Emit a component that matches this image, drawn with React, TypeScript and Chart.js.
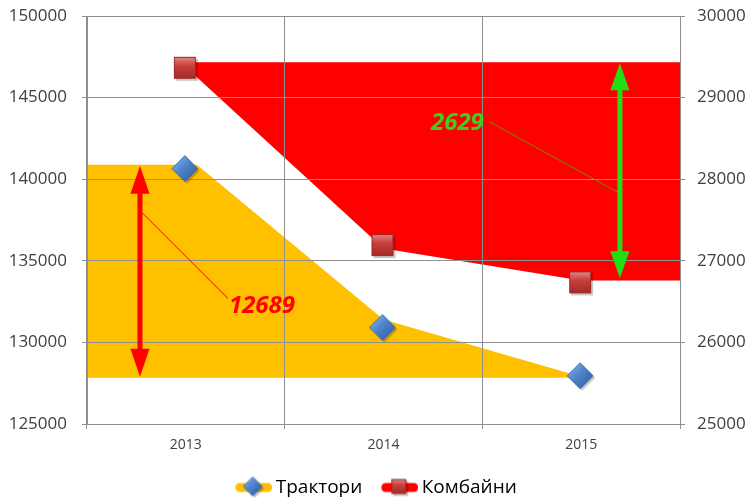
import React, { useEffect, useRef } from 'react';
import { Chart, registerables } from 'chart.js';

Chart.register(...registerables);

// ---------- data ----------
const categories = ['2013', '2014', '2015'];
const seriesNames = ['Трактори', 'Комбайни'];
const tractors = [140583, 130850, 127894];
const combines = [29353, 27180, 26724];

const leftMin = 125000;
const leftMax = 150000;
const leftStep = 5000;
const rightMin = 25000;
const rightMax = 30000;
const rightStep = 1000;

// hand-drawn shapes, x in category units (0..3), y in axis values
const yellowTopX = [0, 0.556, 1.5, 2.5];
const yellowTopY = [140887, 140887, 131400, 127900];
const yellowBase = 127833;

const redTopX = [0.52, 3];
const redTopY = [29433, 29433];
const redBottomX = [0.52, 1.5, 2.5, 3];
const redBottomY = [29330, 27150, 26760, 26760];

// annotations
const tractorDiffLabel = '12689';
const combineDiffLabel = '2629';
const redArrowX = 0.268;
const redArrowY = [140830, 127894];
const greenArrowX = 2.696;
const greenArrowY = [29421, 26785];
const redLeaderX = [0.27, 0.713];
const redLeaderY = [138054, 132697];
const greenLeaderX = [2.033, 2.691];
const greenLeaderY = [28707, 27833];
const redLabelPos = [0.718, 132204];
const greenLabelPos = [1.74, 28682];

const FONT = "'Open Sans', 'Noto Sans', sans-serif";
const GRID = '#8f8f8f';
const YELLOW = '#FFC000';
const RED = '#FF0000';
const GREEN_ARROW = '#22DE14';
const GREEN_TEXT = '#3CCF1C';

function zip(xs: number[], ys: number[]) {
  return xs.map((x, i) => ({ x, y: ys[i] }));
}

function makeDiamond(size: number): HTMLCanvasElement {
  const c = document.createElement('canvas');
  c.width = size + 4;
  c.height = size + 4;
  const ctx = c.getContext('2d')!;
  const h = size / 2;
  const path = (ox: number, oy: number) => {
    ctx.beginPath();
    ctx.moveTo(ox + h, oy);
    ctx.lineTo(ox + size, oy + h);
    ctx.lineTo(ox + h, oy + size);
    ctx.lineTo(ox, oy + h);
    ctx.closePath();
  };
  path(3, 3);
  ctx.fillStyle = 'rgba(0,0,0,0.22)';
  ctx.fill();
  path(1, 1);
  const g = ctx.createLinearGradient(1, 1, size, size);
  g.addColorStop(0, '#9CC0EC');
  g.addColorStop(0.45, '#4F86CC');
  g.addColorStop(1, '#2D5C9C');
  ctx.fillStyle = g;
  ctx.fill();
  ctx.strokeStyle = '#3B6AA8';
  ctx.lineWidth = 1;
  ctx.stroke();
  return c;
}

function makeSquare(size: number): HTMLCanvasElement {
  const c = document.createElement('canvas');
  c.width = size + 4;
  c.height = size + 4;
  const ctx = c.getContext('2d')!;
  ctx.fillStyle = 'rgba(0,0,0,0.22)';
  ctx.fillRect(3, 3, size, size);
  const g = ctx.createLinearGradient(0, 1, 0, size + 1);
  g.addColorStop(0, '#E58A88');
  g.addColorStop(0.4, '#C9403C');
  g.addColorStop(1, '#A52A27');
  ctx.fillStyle = g;
  ctx.fillRect(1, 1, size, size);
  ctx.strokeStyle = '#9A2C2A';
  ctx.lineWidth = 1;
  ctx.strokeRect(1.5, 1.5, size - 1, size - 1);
  return c;
}

function makeLegendIcon(marker: HTMLCanvasElement, color: string, lineW: number, totalW: number): HTMLCanvasElement {
  const c = document.createElement('canvas');
  c.width = totalW;
  c.height = 24;
  const ctx = c.getContext('2d')!;
  const right = totalW;
  const left = totalW - 37;
  ctx.strokeStyle = color;
  ctx.lineWidth = lineW;
  ctx.lineCap = 'round';
  ctx.beginPath();
  ctx.moveTo(left + lineW / 2, 12);
  ctx.lineTo(right - lineW / 2, 12);
  ctx.stroke();
  const cx = (left + right) / 2;
  ctx.drawImage(marker, cx - marker.width / 2, 12 - marker.height / 2);
  return c;
}

function drawDoubleArrow(
  ctx: CanvasRenderingContext2D,
  x: number,
  yTop: number,
  yBot: number,
  color: string,
  shaft: number,
  headW: number,
  headL: number
) {
  ctx.save();
  ctx.fillStyle = color;
  ctx.fillRect(x - shaft / 2, yTop + headL - 1, shaft, yBot - yTop - 2 * headL + 2);
  ctx.beginPath();
  ctx.moveTo(x, yTop);
  ctx.lineTo(x + headW / 2, yTop + headL);
  ctx.lineTo(x - headW / 2, yTop + headL);
  ctx.closePath();
  ctx.fill();
  ctx.beginPath();
  ctx.moveTo(x, yBot);
  ctx.lineTo(x + headW / 2, yBot - headL);
  ctx.lineTo(x - headW / 2, yBot - headL);
  ctx.closePath();
  ctx.fill();
  ctx.restore();
}

const legendShiftPlugin = {
  id: 'legendShift',
  afterLayout(chart: any) {
    if (chart.legend) {
      chart.legend.left -= 8;
      chart.legend.right -= 8;
    }
  },
};

const annotationPlugin = {
  id: 'diffAnnotations',
  afterDatasetsDraw(chart: any) {
    const ctx: CanvasRenderingContext2D = chart.ctx;
    const xs = chart.scales.xl;
    const yl = chart.scales.y;
    const yr = chart.scales.y1;
    // leader lines
    ctx.save();
    ctx.lineWidth = 1;
    ctx.strokeStyle = RED;
    ctx.beginPath();
    ctx.moveTo(xs.getPixelForValue(redLeaderX[0]), yl.getPixelForValue(redLeaderY[0]));
    ctx.lineTo(xs.getPixelForValue(redLeaderX[1]), yl.getPixelForValue(redLeaderY[1]));
    ctx.stroke();
    ctx.strokeStyle = '#6E8F00';
    ctx.beginPath();
    ctx.moveTo(xs.getPixelForValue(greenLeaderX[0]), yr.getPixelForValue(greenLeaderY[0]));
    ctx.lineTo(xs.getPixelForValue(greenLeaderX[1]), yr.getPixelForValue(greenLeaderY[1]));
    ctx.stroke();
    ctx.restore();
    // arrows
    drawDoubleArrow(
      ctx,
      xs.getPixelForValue(redArrowX),
      yl.getPixelForValue(redArrowY[0]),
      yl.getPixelForValue(redArrowY[1]),
      RED,
      5,
      19,
      28
    );
    drawDoubleArrow(
      ctx,
      xs.getPixelForValue(greenArrowX),
      yr.getPixelForValue(greenArrowY[0]),
      yr.getPixelForValue(greenArrowY[1]),
      GREEN_ARROW,
      5,
      19,
      27
    );
    // labels
    ctx.save();
    ctx.font = `italic bold 24px ${FONT}`;
    ctx.textAlign = 'left';
    ctx.textBaseline = 'middle';
    ctx.fillStyle = RED;
    ctx.fillText(tractorDiffLabel, xs.getPixelForValue(redLabelPos[0]), yl.getPixelForValue(redLabelPos[1]));
    ctx.fillStyle = GREEN_TEXT;
    ctx.fillText(combineDiffLabel, xs.getPixelForValue(greenLabelPos[0]), yr.getPixelForValue(greenLabelPos[1]));
    ctx.restore();
  },
};

export default function App() {
  const ref = useRef<HTMLCanvasElement | null>(null);

  useEffect(() => {
    document.body.style.margin = '0';
    const canvas = ref.current;
    if (!canvas) return;

    const diamond = makeDiamond(26);
    const square = makeSquare(22);
    const legendDiamond = makeDiamond(19);
    const legendSquare = makeSquare(15);
    const legendW = 60;
    const icons = [
      makeLegendIcon(legendDiamond, YELLOW, 9, legendW),
      makeLegendIcon(legendSquare, RED, 9, legendW),
    ];

    const chart = new Chart(canvas, {
      type: 'line',
      data: {
        labels: categories,
        datasets: [
          {
            label: 'redTop',
            xAxisID: 'xl',
            yAxisID: 'y1',
            data: zip(redTopX, redTopY) as any,
            borderWidth: 0,
            borderColor: 'rgba(0,0,0,0)',
            pointRadius: 0,
            backgroundColor: RED,
            fill: '+1',
            tension: 0,
          },
          {
            label: 'redBottom',
            xAxisID: 'xl',
            yAxisID: 'y1',
            data: zip(redBottomX, redBottomY) as any,
            borderWidth: 0,
            borderColor: 'rgba(0,0,0,0)',
            pointRadius: 0,
            fill: false,
            tension: 0,
          },
          {
            label: 'yellow',
            xAxisID: 'xl',
            yAxisID: 'y',
            data: zip(yellowTopX, yellowTopY) as any,
            borderWidth: 0,
            borderColor: 'rgba(0,0,0,0)',
            pointRadius: 0,
            backgroundColor: YELLOW,
            fill: { value: yellowBase } as any,
            tension: 0,
          },
          {
            label: seriesNames[0],
            xAxisID: 'x',
            yAxisID: 'y',
            data: tractors,
            showLine: false,
            pointStyle: diamond as any,
            pointRadius: 10,
          },
          {
            label: seriesNames[1],
            xAxisID: 'x',
            yAxisID: 'y1',
            data: combines,
            showLine: false,
            pointStyle: square as any,
            pointRadius: 10,
          },
        ],
      },
      options: {
        responsive: false,
        animation: false,
        events: [],
        layout: { padding: { top: 16, left: 0, right: 0, bottom: -9 } },
        plugins: {
          filler: { drawTime: 'beforeDraw' } as any,
          tooltip: { enabled: false },
          legend: {
            position: 'bottom',
            labels: {
              usePointStyle: true,
              pointStyleWidth: 48,
              padding: 2,
              color: '#222222',
              font: { family: FONT, size: 19 },
              generateLabels: () =>
                seriesNames.map((name, i) => ({
                  text: name,
                  pointStyle: icons[i] as any,
                  fillStyle: 'rgba(0,0,0,0)',
                  strokeStyle: 'rgba(0,0,0,0)',
                  lineWidth: 0,
                  hidden: false,
                  datasetIndex: 3 + i,
                })),
            },
          },
        },
        scales: {
          x: {
            type: 'category',
            position: 'bottom',
            offset: true,
            grid: { offset: true, color: GRID, tickLength: 5, lineWidth: 1 },
            border: { color: GRID },
            ticks: { color: '#404040', font: { family: FONT, size: 14 }, padding: 8, maxRotation: 0 },
            afterFit: (s: any) => {
              s.height = 52;
              s.paddingLeft = 0;
              s.paddingRight = 0;
            },
          },
          xl: {
            type: 'linear',
            position: 'bottom',
            min: 0,
            max: 3,
            display: false,
          },
          y: {
            type: 'linear',
            position: 'left',
            min: leftMin,
            max: leftMax,
            grid: { color: GRID, tickLength: 5 },
            border: { color: GRID },
            ticks: {
              stepSize: leftStep,
              color: '#404040',
              font: { family: FONT, size: 17 },
              padding: 15,
              callback: (v: any) => String(v),
            },
            afterFit: (s: any) => {
              s.width = 87;
              s.paddingTop = 0;
              s.paddingBottom = 0;
            },
          },
          y1: {
            type: 'linear',
            position: 'right',
            min: rightMin,
            max: rightMax,
            grid: { drawOnChartArea: false, color: GRID, tickLength: 5 },
            border: { color: GRID },
            ticks: {
              stepSize: rightStep,
              color: '#404040',
              font: { family: FONT, size: 17 },
              padding: 12,
              callback: (v: any) => String(v),
            },
            afterFit: (s: any) => {
              s.width = 71;
              s.paddingTop = 0;
              s.paddingBottom = 0;
            },
          },
        },
      },
      plugins: [legendShiftPlugin, annotationPlugin],
    });

    return () => {
      chart.destroy();
    };
  }, []);

  return (
    <div style={{ width: 751, height: 498 }}>
      <canvas ref={ref} width={751} height={498} style={{ display: 'block' }} />
    </div>
  );
}
